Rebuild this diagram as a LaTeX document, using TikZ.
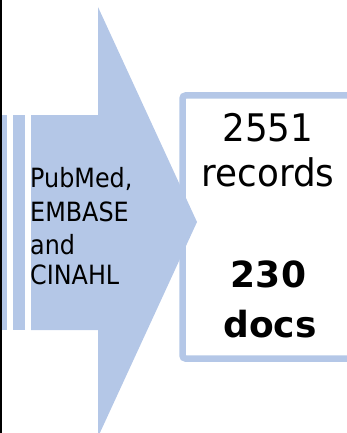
\documentclass[tikz,border=0pt]{standalone}
\usepackage{fontspec}
\setmainfont{DejaVu Sans}
\newfontfamily\narsans[FakeStretch=0.9]{DejaVu Sans}
\newfontfamily\midsans[FakeStretch=0.94]{DejaVu Sans}
\definecolor{arrowblue}{HTML}{B4C7E7}
\tikzset{
  lefttext/.style={anchor=base west, inner sep=0pt, font=\narsans\fontsize{26.5}{31}\selectfont},
  righttext/.style={anchor=base, inner sep=0pt, font=\midsans\fontsize{38}{45}\selectfont},
  boldtext/.style={anchor=base, inner sep=0pt, font=\bfseries\fontsize{36}{42}\selectfont},
  stripe/.style={fill=arrowblue, draw=none},
}
\begin{document}
\begin{tikzpicture}[x=1pt,y=-1pt]
\useasboundingbox (0,0) rectangle (347,433);
\begin{scope}
\clip (0,0) rectangle (347,433);
% result box
\draw[arrowblue, line width=6.5pt, rounded corners=3pt] (182.5,95.5) rectangle (370,358.5);
% block arrow
\fill[arrowblue] (31,115) -- (98,115) -- (98,7) -- (197,222) -- (98,437) -- (98,330) -- (31,330) -- cycle;
\fill[stripe] (2,115) rectangle (7.3,330);
\fill[stripe] (13.3,115) rectangle (25.3,330);
% left border line
\fill[black] (0,0) rectangle (2,433);
\end{scope}
% arrow text
\node[lefttext] (l1) at (30,187) {PubMed,};
\node[lefttext] (l2) at (30,221) {EMBASE};
\node[lefttext] (l3) at (30,254) {and};
\node[lefttext] (l4) at (30,284) {CINAHL};
% box text
\node[righttext] (r1) at (268,141) {2551};
\node[righttext] (r2) at (268,186) {records};
\node[boldtext] (r3) at (268.5,287.5) {230};
\node[boldtext] (r4) at (270,337) {docs};
\end{tikzpicture}
\end{document}
